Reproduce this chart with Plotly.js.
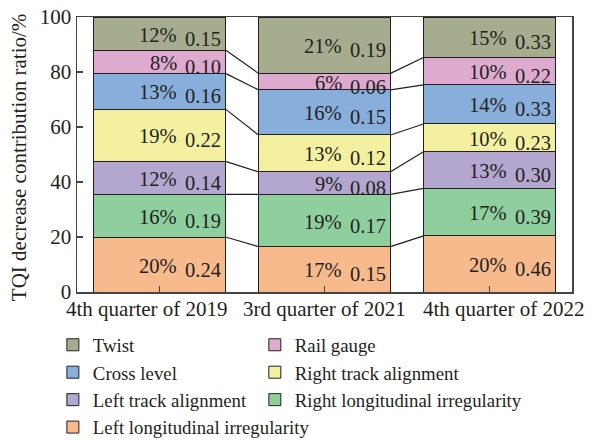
<!DOCTYPE html>
<html>
<head>
<meta charset="utf-8">
<script src="https://cdn.plot.ly/plotly-3.0.1.min.js"></script>
<style>html,body{margin:0;padding:0;background:#fff;}#chart{width:594px;height:440px;}</style>
</head>
<body>
<div id="chart"></div>
<script>
// ---- data ----
var categories = ['4th quarter of 2019', '3rd quarter of 2021', '4th quarter of 2022'];
var yTitle = 'TQI decrease contribution ratio/%';
var yTicks = [0, 20, 40, 60, 80, 100];

// series, bottom to top of each stack
var seriesNames = ['Left longitudinal irregularity', 'Right longitudinal irregularity',
  'Left track alignment', 'Right track alignment', 'Cross level', 'Rail gauge', 'Twist'];

// bar segment heights (% share)
var leftLong   = [20.0, 16.5, 20.4];
var rightLong  = [15.5, 19.0, 17.3];
var leftTrack  = [12.0,  8.2, 13.3];
var rightTrack = [19.0, 13.4, 10.1];
var crossLevel = [13.0, 16.4, 14.2];
var railGauge  = [ 8.5,  6.0, 10.0];
var twist      = [12.0, 20.5, 14.7];

// printed percentage labels
var leftLongPct   = ['20%', '17%', '20%'];
var rightLongPct  = ['16%', '19%', '17%'];
var leftTrackPct  = ['12%', '9%', '13%'];
var rightTrackPct = ['19%', '13%', '10%'];
var crossLevelPct = ['13%', '16%', '14%'];
var railGaugePct  = ['8%', '6%', '10%'];
var twistPct      = ['12%', '21%', '15%'];

// printed TQI decrease values
var leftLongVal   = [0.24, 0.15, 0.46];
var rightLongVal  = [0.19, 0.17, 0.39];
var leftTrackVal  = [0.14, 0.08, 0.30];
var rightTrackVal = [0.22, 0.12, 0.23];
var crossLevelVal = [0.16, 0.15, 0.33];
var railGaugeVal  = [0.10, 0.06, 0.22];
var twistVal      = [0.15, 0.19, 0.33];

// ---- styling ----
var colors = ['#F6BA8D', '#8FCF9D', '#B3A6CF', '#F3F1A0', '#88AEDB', '#DEAACF', '#A6AD8E'];
// which legend column each series goes into
var legendCol = ['legend', 'legend2', 'legend', 'legend2', 'legend', 'legend2', 'legend'];
var FONT = 'Liberation Serif, Times New Roman, serif';
var INK = '#231f20';

var values = [leftLong, rightLong, leftTrack, rightTrack, crossLevel, railGauge, twist];
var pcts = [leftLongPct, rightLongPct, leftTrackPct, rightTrackPct, crossLevelPct, railGaugePct, twistPct];
var vals = [leftLongVal, rightLongVal, leftTrackVal, rightTrackVal, crossLevelVal, railGaugeVal, twistVal];

var xs = categories.map(function (c, i) { return i; });
var BW = 0.8;

var traces = [];
values.forEach(function (v, s) {
  traces.push({
    type: 'bar', name: seriesNames[s], x: xs, y: v, width: BW, legend: legendCol[s],
    marker: { color: colors[s], line: { color: INK, width: 1 } },
    hoverinfo: 'name+y'
  });
});

// cumulative boundaries
var cum = categories.map(function (c, i) {
  var out = [0];
  values.forEach(function (v) { out.push(out[out.length - 1] + v[i]); });
  return out;
});

// connecting lines between adjacent bars
var lx = [], ly = [];
for (var i = 0; i < categories.length - 1; i++) {
  for (var k = 1; k < seriesNames.length; k++) {
    lx.push(i + BW / 2, i + 1 - BW / 2, null);
    ly.push(cum[i][k], cum[i + 1][k], null);
  }
}
traces.push({
  type: 'scatter', mode: 'lines', x: lx, y: ly, showlegend: false, hoverinfo: 'skip',
  line: { color: INK, width: 1.2 }
});

// segment labels
var annotations = [];
values.forEach(function (v, s) {
  categories.forEach(function (c, i) {
    var mid = cum[i][s] + v[i] / 2;
    annotations.push({
      x: i + BW / 2, y: mid, xref: 'x', yref: 'y', text: vals[s][i].toFixed(2),
      showarrow: false, xanchor: 'right', yanchor: 'middle', xshift: -3, yshift: -5,
      font: { family: FONT, size: 20.5, color: INK }
    });
    annotations.push({
      x: i + BW / 2, y: mid, xref: 'x', yref: 'y', text: pcts[s][i],
      showarrow: false, xanchor: 'right', yanchor: 'middle', xshift: -47, yshift: -1,
      font: { family: FONT, size: 20.5, color: INK }
    });
  });
});

// category labels (spread slightly outward as in the reference)
var catShift = [-13, 0, 14];
categories.forEach(function (c, i) {
  annotations.push({
    x: i, y: 0, xref: 'x', yref: 'y', text: c, showarrow: false,
    xanchor: 'center', yanchor: 'top', xshift: catShift[i], yshift: -3,
    font: { family: FONT, size: 21, color: INK }
  });
});

// y-axis title
annotations.push({
  x: -0.117, y: 0.487, xref: 'paper', yref: 'paper', text: yTitle, textangle: -90,
  showarrow: false, xanchor: 'center', yanchor: 'middle',
  font: { family: FONT, size: 21, color: INK }
});

var legendBase = {
  orientation: 'v', traceorder: 'reversed',
  xref: 'container', yref: 'container', xanchor: 'left', yanchor: 'top',
  font: { family: FONT, size: 18.8, color: INK },
  bgcolor: 'rgba(0,0,0,0)', borderwidth: 0, tracegroupgap: 0
};

var layout = {
  width: 594, height: 440,
  margin: { l: 77, r: 22, t: 17, b: 148, pad: 0, autoexpand: false },
  paper_bgcolor: '#fff', plot_bgcolor: '#fff',
  barmode: 'stack',
  font: { family: FONT, size: 21, color: INK },
  showlegend: true,
  xaxis: {
    range: [-0.5, 2.5], tickvals: xs, ticktext: categories, showticklabels: false,
    showgrid: false, zeroline: false, showline: true, mirror: true,
    linecolor: '#444', linewidth: 1.5,
    ticks: 'inside', ticklen: 6, tickcolor: '#444', tickwidth: 1.2
  },
  yaxis: {
    range: [0, 100], tickvals: yTicks,
    showgrid: false, zeroline: false, showline: true, mirror: true,
    linecolor: '#444', linewidth: 1.5,
    ticks: 'inside', ticklen: 6, tickcolor: '#444', tickwidth: 1.2,
    tickfont: { family: FONT, size: 21, color: INK }
  },
  legend: Object.assign({}, legendBase, { x: 0.089, y: 0.259 }),
  legend2: Object.assign({}, legendBase, { x: 0.429, y: 0.259 }),
  annotations: annotations
};

Plotly.newPlot('chart', traces, layout, { displayModeBar: false, staticPlot: true });
</script>
</body>
</html>
